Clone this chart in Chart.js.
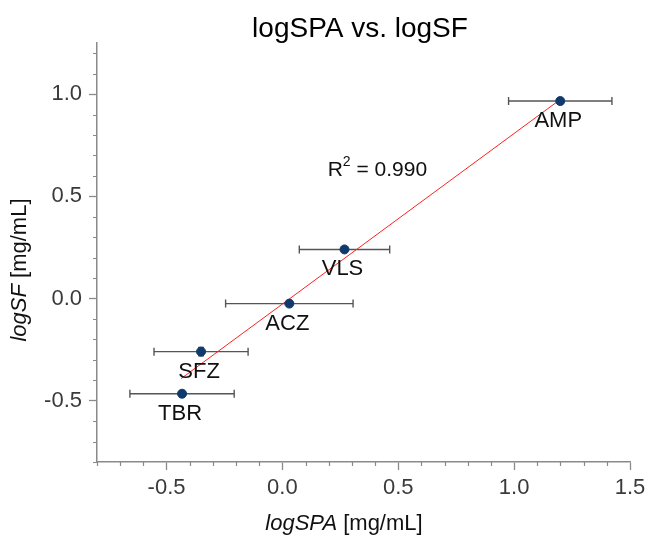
<!DOCTYPE html>
<html lang="en">
<head>
    <meta charset="UTF-8">
    <title>logSPA vs. logSF</title>
    <script src="https://cdn.jsdelivr.net/npm/chart.js"></script>
    <style>
        body, html { margin: 0; padding: 0; background: #fff; overflow: hidden; }
        #wrap { width: 652px; height: 537px; }
    </style>
</head>
<body>
    <div id="wrap"><canvas id="chart"></canvas></div>

    <script>
        const drugs = ['TBR', 'SFZ', 'ACZ', 'VLS', 'AMP'];
        const logSPA = [-0.433, -0.351, 0.030, 0.268, 1.199];
        const logSF = [-0.466, -0.260, -0.025, 0.240, 0.966];
        const spaErr = [0.225, 0.203, 0.275, 0.195, 0.223];
        const sfErr = [0.015, 0.02, 0.01, 0.01, 0.012];
        const fitX = [-0.437, 1.19];
        const fitY = [-0.392, 0.966];
        const rSquared = '0.990';
        const rLabelPos = [0.41, 0.63];
        const xTicks = [-0.5, 0.0, 0.5, 1.0, 1.5];
        const yTicks = [-0.5, 0.0, 0.5, 1.0];

        const FONT = '"Liberation Sans", Arial, sans-serif';
        const AXIS = '#8a8a8a';

        const decor = {
            id: 'decor',
            beforeDatasetsDraw(chart) {
                const { ctx, scales: { x, y } } = chart;
                ctx.save();
                ctx.strokeStyle = '#555';
                ctx.lineWidth = 1.4;
                drugs.forEach((d, i) => {
                    const px = x.getPixelForValue(logSPA[i]);
                    const py = y.getPixelForValue(logSF[i]);
                    const x0 = x.getPixelForValue(logSPA[i] - spaErr[i]);
                    const x1 = x.getPixelForValue(logSPA[i] + spaErr[i]);
                    const y0 = y.getPixelForValue(logSF[i] - sfErr[i]);
                    const y1 = y.getPixelForValue(logSF[i] + sfErr[i]);
                    ctx.beginPath();
                    ctx.moveTo(x0, py); ctx.lineTo(x1, py);
                    ctx.moveTo(x0, py - 4); ctx.lineTo(x0, py + 4);
                    ctx.moveTo(x1, py - 4); ctx.lineTo(x1, py + 4);
                    ctx.moveTo(px, y0); ctx.lineTo(px, y1);
                    ctx.moveTo(px - 3, y0); ctx.lineTo(px + 3, y0);
                    ctx.moveTo(px - 3, y1); ctx.lineTo(px + 3, y1);
                    ctx.stroke();
                });
                ctx.restore();
            },
            afterDraw(chart) {
                const { ctx, chartArea: a, scales: { x, y } } = chart;
                ctx.save();
                // minor ticks
                ctx.strokeStyle = AXIS;
                ctx.lineWidth = 1.2;
                ctx.beginPath();
                for (let i = -8; i <= 15; i++) {
                    if (i % 5 === 0) continue;
                    const px = Math.round(x.getPixelForValue(i / 10)) + 0.5;
                    ctx.moveTo(px, a.bottom); ctx.lineTo(px, a.bottom + 4);
                }
                for (let i = -8; i <= 12; i++) {
                    if (i % 5 === 0) continue;
                    const py = Math.round(y.getPixelForValue(i / 10)) + 0.5;
                    ctx.moveTo(a.left, py); ctx.lineTo(a.left - 4, py);
                }
                ctx.stroke();

                // point labels
                ctx.fillStyle = '#111';
                ctx.font = '22px ' + FONT;
                ctx.textAlign = 'center';
                ctx.textBaseline = 'middle';
                drugs.forEach((d, i) => {
                    ctx.fillText(d, x.getPixelForValue(logSPA[i]) - 2, y.getPixelForValue(logSF[i]) + 20);
                });

                // R^2 label
                const rx = x.getPixelForValue(rLabelPos[0]);
                const ry = y.getPixelForValue(rLabelPos[1]);
                ctx.textAlign = 'left';
                ctx.font = '21px ' + FONT;
                const w1 = ctx.measureText('R').width;
                const rest = ' = ' + rSquared;
                ctx.font = '14px ' + FONT;
                const w2 = ctx.measureText('2').width;
                ctx.font = '21px ' + FONT;
                const w3 = ctx.measureText(rest).width;
                let sx = rx - (w1 + w2 + w3) / 2;
                ctx.fillText('R', sx, ry);
                ctx.font = '14px ' + FONT;
                ctx.fillText('2', sx + w1, ry - 8);
                ctx.font = '21px ' + FONT;
                ctx.fillText(rest, sx + w1 + w2, ry);

                // title
                ctx.textAlign = 'center';
                ctx.fillStyle = '#000';
                ctx.font = '28px ' + FONT;
                ctx.fillText('logSPA vs. logSF', 360, 29);

                // axis titles (italic variable + units)
                const drawMixed = (ital, rest, cx, cy) => {
                    ctx.font = 'italic 22px ' + FONT;
                    const wi = ctx.measureText(ital).width;
                    ctx.font = '22px ' + FONT;
                    const wr = ctx.measureText(rest).width;
                    const start = cx - (wi + wr) / 2;
                    ctx.textAlign = 'left';
                    ctx.font = 'italic 22px ' + FONT;
                    ctx.fillText(ital, start, cy);
                    ctx.font = '22px ' + FONT;
                    ctx.fillText(rest, start + wi, cy);
                };
                ctx.fillStyle = '#111';
                drawMixed('logSPA', ' [mg/mL]', 344, 524);
                ctx.save();
                ctx.translate(20, 270);
                ctx.rotate(-Math.PI / 2);
                drawMixed('logSF', ' [mg/mL]', 0, 0);
                ctx.restore();
                ctx.restore();
            }
        };

        new Chart(document.getElementById('chart'), {
            type: 'scatter',
            data: {
                datasets: [
                    {
                        type: 'line',
                        data: fitX.map((v, i) => ({ x: v, y: fitY[i] })),
                        borderColor: '#ff2020',
                        borderWidth: 1,
                        pointRadius: 0,
                        fill: false,
                        order: 2
                    },
                    {
                        data: logSPA.map((v, i) => ({ x: v, y: logSF[i] })),
                        backgroundColor: '#0f3a6b',
                        borderColor: '#0f3a6b',
                        pointRadius: 4.5,
                        order: 1
                    }
                ]
            },
            options: {
                responsive: true,
                maintainAspectRatio: false,
                animation: false,
                layout: { padding: { top: 43, right: 22, left: 0, bottom: 0 } },
                plugins: { legend: { display: false }, tooltip: { enabled: false }, title: { display: false } },
                scales: {
                    x: {
                        type: 'linear',
                        min: -0.8,
                        max: 1.5,
                        afterBuildTicks: (s) => { s.ticks = xTicks.map(v => ({ value: v })); },
                        afterFit: (s) => { s.height = 75; },
                        border: { color: AXIS, width: 1.5 },
                        grid: { drawOnChartArea: false, tickLength: 8, tickColor: AXIS, tickWidth: 1.3 },
                        ticks: {
                            color: '#3a3a3a',
                            font: { family: FONT, size: 22 },
                            padding: 5,
                            maxRotation: 0,
                            callback: (v) => v.toFixed(1)
                        }
                    },
                    y: {
                        type: 'linear',
                        min: -0.8,
                        max: 1.25,
                        afterBuildTicks: (s) => { s.ticks = yTicks.map(v => ({ value: v })); },
                        afterFit: (s) => { s.width = 97; },
                        border: { color: AXIS, width: 1.5 },
                        grid: { drawOnChartArea: false, tickLength: 8, tickColor: AXIS, tickWidth: 1.3 },
                        ticks: {
                            color: '#3a3a3a',
                            font: { family: FONT, size: 22 },
                            padding: 7,
                            callback: (v) => v.toFixed(1)
                        }
                    }
                }
            },
            plugins: [decor]
        });
    </script>
</body>
</html>
